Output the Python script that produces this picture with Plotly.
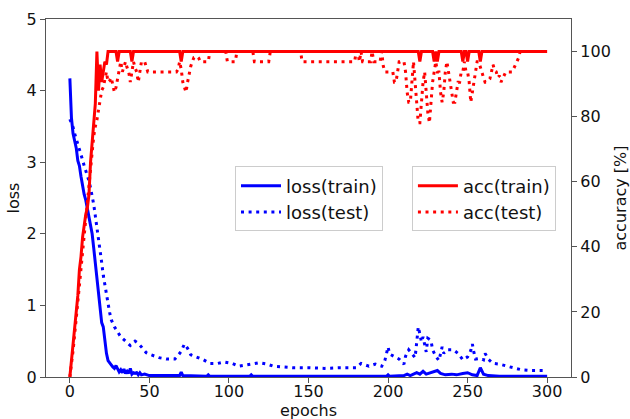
import plotly.graph_objects as go

# ---- data ----
loss_train_ep = [0, 1, 2, 3, 4, 5, 6, 7, 8, 9, 10, 11, 12, 13, 14, 15, 16, 17, 18, 19, 20, 21, 22, 23, 24, 25,
                 26, 27, 28, 29, 30, 31, 32, 33, 34, 35, 36, 37, 38, 39, 40, 41, 42, 43, 44, 45, 47, 50, 69, 70,
                 71, 86, 87, 88, 113, 114, 115, 199, 200, 201, 210, 212, 214, 218, 220, 222, 224, 229, 231, 233,
                 236, 240, 243, 247, 250, 253, 256, 258, 260, 263, 270, 300]
loss_train = [4.17, 3.62, 3.40, 3.30, 3.20, 3.02, 2.95, 2.80, 2.66, 2.55, 2.47, 2.35, 2.22, 2.10, 2.00, 1.80,
              1.60, 1.42, 1.22, 0.95, 0.76, 0.70, 0.50, 0.33, 0.23, 0.19, 0.17, 0.14, 0.12, 0.16, 0.10, 0.07,
              0.10, 0.06, 0.11, 0.05, 0.08, 0.05, 0.12, 0.04, 0.06, 0.05, 0.06, 0.03, 0.06, 0.03, 0.04, 0.02,
              0.02, 0.07, 0.02, 0.01, 0.03, 0.01, 0.01, 0.03, 0.01, 0.01, 0.03, 0.01, 0.02, 0.04, 0.02, 0.06,
              0.04, 0.08, 0.04, 0.07, 0.09, 0.05, 0.03, 0.04, 0.03, 0.05, 0.06, 0.03, 0.02, 0.13, 0.04, 0.02,
              0.01, 0.01]

loss_test_ep = [0, 2, 3, 4, 6, 7, 8, 9, 10, 11, 12, 13, 14, 15, 16, 17, 18, 19, 20, 21, 22, 23, 24, 25, 26,
                27, 28, 30, 32, 35, 38, 41, 43, 45, 48, 51, 56, 61, 66, 68, 70, 72, 74, 76, 80, 84, 88, 93, 97,
                102, 106, 110, 114, 119, 124, 128, 132, 140, 150, 160, 170, 180, 183, 188, 192, 196, 198, 200,
                201, 204, 207, 210, 211, 213, 215, 217, 218, 219, 220, 221, 222, 223, 224, 225, 227, 228, 230,
                232, 233, 234, 235, 237, 241, 244, 247, 250, 252, 253, 254, 255, 258, 260, 261, 263, 266, 270,
                275, 280, 284, 290, 300]
loss_test = [3.60, 3.49, 3.40, 3.33, 3.20, 3.13, 3.03, 2.95, 2.89, 2.82, 2.74, 2.64, 2.53, 2.41, 2.25, 2.10,
             1.91, 1.77, 1.60, 1.42, 1.28, 1.16, 1.04, 0.90, 0.80, 0.74, 0.70, 0.63, 0.56, 0.50, 0.44, 0.50,
             0.47, 0.42, 0.34, 0.31, 0.27, 0.25, 0.25, 0.30, 0.36, 0.46, 0.40, 0.31, 0.28, 0.24, 0.19, 0.19,
             0.21, 0.19, 0.15, 0.16, 0.18, 0.20, 0.18, 0.15, 0.14, 0.13, 0.13, 0.12, 0.13, 0.13, 0.19, 0.15,
             0.18, 0.15, 0.23, 0.42, 0.32, 0.28, 0.25, 0.18, 0.29, 0.38, 0.32, 0.27, 0.48, 0.70, 0.60, 0.49,
             0.56, 0.45, 0.35, 0.54, 0.51, 0.38, 0.29, 0.23, 0.33, 0.42, 0.33, 0.38, 0.38, 0.33, 0.24, 0.28,
             0.37, 0.46, 0.34, 0.25, 0.26, 0.24, 0.33, 0.25, 0.19, 0.18, 0.15, 0.12, 0.10, 0.09, 0.09]

acc_train_ep = [0, 1, 2, 3, 4, 5, 6, 7, 8, 9, 10, 11, 12, 13, 14, 15, 16, 17, 18, 19, 20, 21, 22, 23, 24,
                29, 30, 31, 38, 39, 40, 69, 70, 71, 219, 220, 221, 228, 229, 230, 231, 232, 246, 247, 248,
                249, 250, 251, 257, 258, 259, 300]
acc_train = [0.0, 5.0, 12.0, 16.0, 22.0, 25.0, 33.0, 37.0, 43.0, 47.0, 50.0, 52.0, 56.0, 66.0, 72.0, 77.0,
             84.0, 100.0, 88.0, 96.0, 90.6, 93.75, 96.9, 96.0, 100.0, 100.0, 96.9, 100.0, 100.0, 96.9, 100.0,
             100.0, 96.9, 100.0, 100.0, 96.9, 100.0, 100.0, 96.9, 100.0, 96.9, 100.0, 100.0, 96.9, 100.0,
             100.0, 96.9, 100.0, 100.0, 96.9, 100.0, 100.0]

acc_test_ep = [0, 2, 4, 6, 8, 10, 11, 12, 13, 14, 15, 16, 17, 18, 19, 20, 21, 22, 23, 24, 25, 26, 27, 28, 29,
               30, 31, 32, 33, 34, 35, 36, 37, 38, 39, 40, 41, 42, 43, 44, 45, 47, 48, 49, 67, 68, 69, 70, 71,
               72, 73, 74, 75, 76, 77, 78, 80, 81, 82, 87, 88, 98, 99, 104, 105, 115, 116, 125, 126, 145, 146,
               179, 180, 181, 182, 183, 184, 189, 190, 191, 195, 196, 197, 198, 203, 204, 205, 206, 207, 210,
               211, 212, 213, 214, 215, 216, 217, 218, 219, 220, 221, 222, 223, 224, 225, 226, 227, 228, 229,
               230, 231, 232, 233, 234, 235, 236, 237, 238, 239, 240, 241, 242, 243, 244, 245, 246, 247, 248,
               249, 250, 251, 252, 253, 254, 255, 256, 257, 258, 259, 260, 261, 262, 263, 264, 265, 266, 267,
               268, 269, 270, 271, 272, 273, 274, 278, 279, 280, 281, 282, 283, 300]
acc_test = [0.0, 8.0, 18.0, 28.0, 38.0, 48.0, 53.0, 58.0, 63.0, 70.0, 74.0, 77.0, 79.0, 82.0, 85.0, 88.0,
            89.0, 91.5, 93.75, 90.6, 91.0, 92.0, 90.0, 87.5, 89.0, 91.5, 94.0, 96.9, 93.75, 95.5, 96.9, 95.0,
            93.75, 90.6, 94.0, 96.9, 95.0, 93.75, 90.6, 94.0, 96.9, 96.9, 95.5, 93.75, 93.75, 94.5, 96.9,
            94.5, 90.6, 89.0, 87.5, 90.6, 93.75, 95.5, 96.9, 98.2, 98.5, 98.0, 96.9, 96.9, 100.0, 100.0,
            96.9, 96.9, 100.0, 100.0, 96.9, 96.9, 100.0, 100.0, 96.9, 96.9, 100.0, 100.0, 96.9, 100.0,
            96.9, 96.9, 100.0, 96.9, 96.9, 100.0, 95.6, 93.75, 93.75, 90.6, 90.6, 93.75, 96.9, 96.9, 93.75,
            87.5, 84.4, 84.4, 90.6, 96.9, 90.6, 84.4, 78.1, 78.1, 84.4, 90.6, 93.75, 87.5, 81.25, 78.1,
            84.4, 90.6, 93.75, 96.9, 93.75, 93.75, 87.5, 84.4, 87.5, 93.75, 96.9, 93.75, 90.6, 87.5, 84.4,
            84.4, 87.5, 90.6, 90.6, 93.75, 93.75, 96.9, 93.75, 93.75, 90.6, 84.4, 87.5, 90.6, 93.75, 96.9,
            96.9, 95.0, 93.75, 92.0, 90.6, 90.6, 91.0, 91.6, 93.75, 96.0, 94.0, 93.75, 92.0, 92.6, 90.6,
            91.5, 92.6, 93.75, 93.75, 95.0, 96.0, 96.9, 98.0, 100.0, 100.0]

x_ticks = [0, 50, 100, 150, 200, 250, 300]
loss_ticks = [0, 1, 2, 3, 4, 5]
acc_ticks = [0, 20, 40, 60, 80, 100]

BLUE = "#0000ff"
RED = "#ff0000"
AX = "#555555"
FONT = "DejaVu Sans"
DOT = "3px,4.6px"

fig = go.Figure()
fig.add_trace(go.Scatter(x=loss_train_ep, y=loss_train, mode="lines", name="loss(train)",
                         line=dict(color=BLUE, width=3), legend="legend"))
fig.add_trace(go.Scatter(x=loss_test_ep, y=loss_test, mode="lines", name="loss(test)",
                         line=dict(color=BLUE, width=3, dash=DOT), legend="legend"))
fig.add_trace(go.Scatter(x=acc_train_ep, y=acc_train, mode="lines", name="acc(train)", yaxis="y2",
                         line=dict(color=RED, width=3), legend="legend2"))
fig.add_trace(go.Scatter(x=acc_test_ep, y=acc_test, mode="lines", name="acc(test)", yaxis="y2",
                         line=dict(color=RED, width=3, dash=DOT), legend="legend2"))

axis_common = dict(showgrid=False, zeroline=False, showline=True, linecolor=AX, linewidth=1.3,
                   ticks="outside", ticklen=5, tickcolor=AX, tickwidth=1.2, automargin=False,
                   tickfont=dict(family=FONT, size=16, color="#111"))

legend_common = dict(bgcolor="rgba(255,255,255,0.85)", bordercolor="#cccccc", borderwidth=1,
                     font=dict(family=FONT, size=18, color="#111"), xanchor="left", yanchor="top",
                     tracegroupgap=0, itemwidth=40)

fig.update_layout(
    width=630, height=419,
    margin=dict(l=46, r=59, t=19, b=42),
    plot_bgcolor="white", paper_bgcolor="white",
    font=dict(family=FONT, size=16, color="#111"),
    xaxis=dict(range=[-15, 315], tickvals=x_ticks, mirror=True, ticklabelstandoff=-5, **axis_common),
    yaxis=dict(range=[0, 5], tickvals=loss_ticks,
               title=dict(text="loss", font=dict(family=FONT, size=16), standoff=2), **axis_common),
    yaxis2=dict(range=[0, 110], tickvals=acc_ticks, overlaying="y", side="right",
                title=dict(text="accuracy [%]", font=dict(family=FONT, size=16), standoff=6), **axis_common),
    showlegend=True,
    legend=dict(x=0.36, y=0.588, **legend_common),
    legend2=dict(x=0.697, y=0.588, **legend_common),
    annotations=[dict(text="epochs", xref="paper", yref="paper", x=0.5, y=-0.093,
                      xanchor="center", yanchor="middle", showarrow=False,
                      font=dict(family=FONT, size=16, color="#111"))],
)

fig.write_html("out.html", config={"displayModeBar": False},
               post_script="document.body.style.margin='0px';")
